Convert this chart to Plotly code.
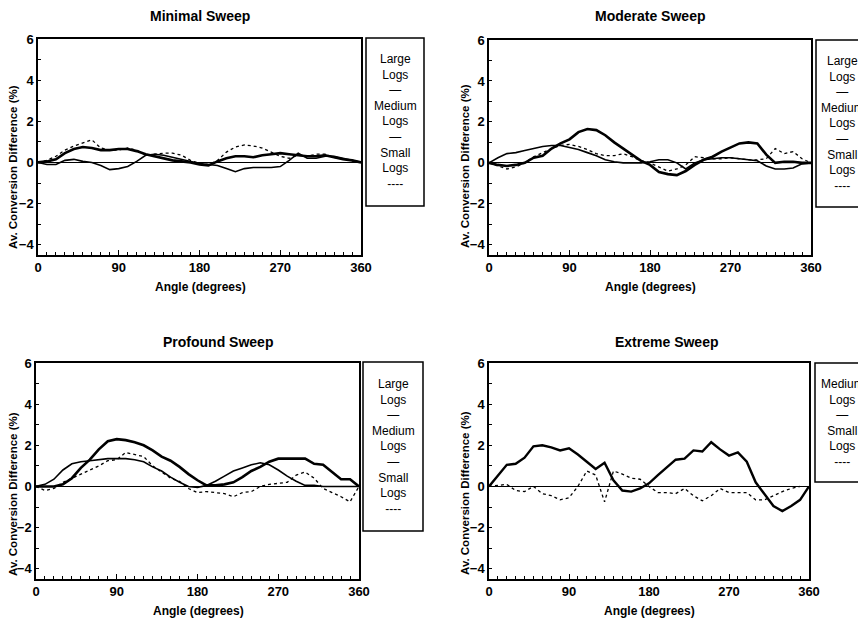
import plotly.graph_objects as go

# ---------------- data ----------------
ANGLES = [0, 10, 20, 30, 40, 50, 60, 70, 80, 90, 100, 110, 120, 130, 140, 150, 160, 170, 180,
          190, 200, 210, 220, 230, 240, 250, 260, 270, 280, 290, 300, 310, 320, 330, 340, 350, 360]

MIN_LARGE = [0, 0.05, 0.15, 0.45, 0.65, 0.75, 0.7, 0.6, 0.6, 0.65, 0.65, 0.55, 0.4, 0.3, 0.2, 0.1, 0.05, 0, -0.1,
             -0.15, 0.05, 0.2, 0.3, 0.3, 0.25, 0.35, 0.4, 0.45, 0.4, 0.35, 0.3, 0.3, 0.35, 0.25, 0.15, 0.1, 0]
MIN_MEDIUM = [0, -0.1, -0.1, 0.1, 0.15, 0.05, 0, -0.15, -0.35, -0.3, -0.2, 0.05, 0.35, 0.4, 0.35, 0.25, 0.15, 0.05, -0.05,
              -0.1, -0.15, -0.3, -0.45, -0.3, -0.25, -0.25, -0.25, -0.2, 0.1, 0.45, 0.2, 0.2, 0.3, 0.3, 0.2, 0.1, 0]
MIN_SMALL = [0, 0.1, 0.3, 0.6, 0.8, 0.95, 1.1, 0.7, 0.6, 0.6, 0.7, 0.6, 0.35, 0.4, 0.45, 0.45, 0.35, 0.1, -0.05,
             -0.1, 0.1, 0.5, 0.75, 0.85, 0.8, 0.7, 0.5, 0.3, 0.2, 0.35, 0.3, 0.4, 0.4, 0.25, 0.15, 0.1, 0]

MOD_LARGE = [0, -0.1, -0.15, -0.1, 0, 0.25, 0.35, 0.7, 0.95, 1.15, 1.5, 1.65, 1.6, 1.35, 1.0, 0.7, 0.4, 0.1, -0.1,
             -0.45, -0.55, -0.6, -0.4, -0.1, 0.15, 0.3, 0.55, 0.75, 0.95, 1.0, 0.95, 0.4, 0, 0.05, 0.05, 0, 0]
MOD_MEDIUM = [0, 0.25, 0.45, 0.5, 0.6, 0.7, 0.8, 0.85, 0.85, 0.75, 0.65, 0.5, 0.35, 0.15, 0.05, 0, 0, 0, 0.05,
              0.15, 0.15, 0.0, -0.3, 0, 0.15, 0.2, 0.25, 0.25, 0.2, 0.15, 0.1, -0.15, -0.3, -0.3, -0.25, -0.05, 0]
MOD_SMALL = [0, -0.15, -0.3, -0.2, 0, 0.3, 0.5, 0.7, 0.85, 0.9, 0.8, 0.65, 0.45, 0.35, 0.35, 0.45, 0.3, 0.1, 0,
             -0.2, -0.4, -0.3, -0.1, 0.3, 0.25, 0.2, 0.2, 0.25, 0.2, 0.15, 0.15, 0.2, 0.7, 0.45, 0.55, 0.2, 0]

PRO_LARGE = [0, 0, 0, 0.1, 0.4, 0.9, 1.3, 1.8, 2.2, 2.3, 2.25, 2.15, 2.0, 1.75, 1.45, 1.25, 0.95, 0.6, 0.3,
             0.05, 0.05, 0.1, 0.2, 0.45, 0.75, 0.95, 1.2, 1.35, 1.35, 1.35, 1.35, 1.1, 1.05, 0.7, 0.35, 0.35, 0]
PRO_MEDIUM = [0, 0.1, 0.35, 0.8, 1.1, 1.2, 1.25, 1.3, 1.35, 1.35, 1.35, 1.3, 1.2, 0.95, 0.75, 0.45, 0.2, 0.0, -0.05,
              0.05, 0.25, 0.5, 0.75, 0.9, 1.05, 1.15, 1.05, 0.8, 0.5, 0.25, 0.05, 0.05, 0, 0, 0, 0, 0]
PRO_SMALL = [0, -0.2, -0.1, 0.2, 0.4, 0.6, 0.8, 1.0, 1.25, 1.3, 1.65, 1.55, 1.45, 1.0, 0.7, 0.4, 0.25, -0.1, -0.3,
             -0.25, -0.3, -0.35, -0.5, -0.3, -0.25, 0.0, 0.1, 0.15, 0.2, 0.55, 0.7, 0.4, -0.1, -0.3, -0.5, -0.75, 0]

EXT_MEDIUM = [0, 0.5, 1.05, 1.1, 1.4, 1.95, 2.0, 1.9, 1.75, 1.85, 1.55, 1.2, 0.85, 1.15, 0.3, -0.2, -0.25, -0.1, 0.15,
              0.55, 0.95, 1.3, 1.35, 1.75, 1.7, 2.15, 1.8, 1.5, 1.65, 1.2, 0.2, -0.35, -0.95, -1.2, -0.95, -0.65, 0]
EXT_SMALL = [0, 0.05, 0.1, -0.2, -0.25, 0, -0.35, -0.45, -0.65, -0.55, 0, 0.75, 0.55, -0.75, 0.75, 0.6, 0.4, 0.35, 0,
             -0.3, -0.3, -0.35, -0.1, -0.45, -0.7, -0.45, -0.1, -0.3, -0.3, -0.3, -0.65, -0.65, -0.45, -0.25, -0.1, 0.0, None]

X_TICKS = [0, 90, 180, 270, 360]
Y_TICKS = [-4, -2, 0, 2, 4, 6]
TITLES = ["Minimal Sweep", "Moderate Sweep", "Profound Sweep", "Extreme Sweep"]
LEGEND3 = "Large<br>Logs<br>—<br>Medium<br>Logs<br>—<br>Small<br>Logs<br>----"
LEGEND2 = "Medium<br>Logs<br>—<br>Small<br>Logs<br>----"
X_TITLE = "Angle (degrees)"
Y_TITLE = "Av. Conversion Difference (%)"

# ---------------- layout helpers ----------------
# The page body has an 8px margin, so the figure is drawn 8px in from the window corner.
PAGE_W, PAGE_H = 866, 622
OFF = 8
W, H = PAGE_W - OFF, PAGE_H - OFF
FONT = "Liberation Sans, Arial, sans-serif"


def fx(p):
    return (p - OFF) / W


def fy(p):
    return 1 - (p - OFF) / H


STYLE = {
    "large": dict(color="black", width=2.6, dash="solid"),
    "medium": dict(color="black", width=1.6, dash="solid"),
    "medium_thick": dict(color="black", width=2.4, dash="solid"),
    "small": dict(color="black", width=1.3, dash="dot"),
}

# positions below are window pixels measured on the reference
panels = [
    dict(box=(38, 361, 39, 255), title=(200, 16), xt=(200, 287), yt=(13, 167),
         series=[(MIN_LARGE, "large"), (MIN_MEDIUM, "medium"), (MIN_SMALL, "small")],
         legend=(366, 424, 38, 206, LEGEND3), ltx=395),
    dict(box=(489, 811, 40, 255), title=(650, 16), xt=(650, 287), yt=(465, 166),
         series=[(MOD_LARGE, "large"), (MOD_MEDIUM, "medium"), (MOD_SMALL, "small")],
         legend=(816, 874, 40, 207, LEGEND3), ltx=842),
    dict(box=(36, 359, 363, 579), title=(218, 342), xt=(198, 611), yt=(13, 494),
         series=[(PRO_LARGE, "large"), (PRO_MEDIUM, "medium"), (PRO_SMALL, "small")],
         legend=(363, 423, 362, 531, LEGEND3), ltx=393),
    dict(box=(489, 809, 363, 579), title=(667, 342), xt=(649, 611), yt=(465, 493),
         series=[(EXT_MEDIUM, "medium_thick"), (EXT_SMALL, "small")],
         legend=(815, 873, 363, 482, LEGEND2), ltx=842),
]

fig = go.Figure()
annotations = []
shapes = []
layout_axes = {}
TICKFONT = dict(family=FONT, size=13, color="black", weight="bold")

for i, p in enumerate(panels):
    n = "" if i == 0 else str(i + 1)
    x0, x1, y0, y1 = p["box"]
    for vals, kind in p["series"]:
        fig.add_trace(go.Scatter(x=ANGLES, y=vals, mode="lines", line=STYLE[kind],
                                 xaxis="x" + n, yaxis="y" + n, showlegend=False,
                                 connectgaps=False))
    layout_axes["xaxis" + n] = dict(
        domain=[fx(x0), fx(x1)], anchor="y" + n, range=[0, 360],
        tickvals=X_TICKS, ticks="inside", ticklen=5, tickwidth=1, tickcolor="black",
        minor=dict(dtick=10, ticks="inside", ticklen=3, tickcolor="black", tickwidth=1),
        showgrid=False, zeroline=False, showline=True, linecolor="black", linewidth=1.5,
        mirror=True, tickfont=TICKFONT,
        automargin=False, fixedrange=True,
    )
    layout_axes["yaxis" + n] = dict(
        domain=[fy(y1), fy(y0)], anchor="x" + n, range=[-4.5, 6],
        tickvals=Y_TICKS, ticks="inside", ticklen=3, tickwidth=1, tickcolor="black",
        minor=dict(dtick=1, ticks="inside", ticklen=3, tickcolor="black", tickwidth=1),
        showgrid=False, zeroline=True, zerolinecolor="black", zerolinewidth=1.2,
        showline=True, linecolor="black", linewidth=1.5, mirror=True,
        tickfont=TICKFONT,
        automargin=False, fixedrange=True,
    )
    tx, ty = p["title"]
    annotations.append(dict(text="<b>" + TITLES[i] + "</b>", x=fx(tx), y=fy(ty), xref="paper", yref="paper",
                            xanchor="center", yanchor="middle", showarrow=False,
                            font=dict(family=FONT, size=14, color="black")))
    ax, ay = p["xt"]
    annotations.append(dict(text="<b>" + X_TITLE + "</b>", x=fx(ax), y=fy(ay), xref="paper", yref="paper",
                            xanchor="center", yanchor="middle", showarrow=False,
                            font=dict(family=FONT, size=12, color="black")))
    bx, by = p["yt"]
    annotations.append(dict(text="<b>" + Y_TITLE + "</b>", x=fx(bx), y=fy(by), xref="paper", yref="paper",
                            xanchor="center", yanchor="middle", showarrow=False, textangle=-90,
                            font=dict(family=FONT, size=11.5, color="black")))
    lx0, lx1, ly0, ly1, ltext = p["legend"]
    shapes.append(dict(type="rect", xref="paper", yref="paper", x0=fx(lx0), x1=fx(lx1),
                       y0=fy(ly1), y1=fy(ly0), line=dict(color="black", width=1.5)))
    annotations.append(dict(text=ltext, x=fx(p["ltx"]), y=fy((ly0 + ly1) / 2),
                            xref="paper", yref="paper", xanchor="center", yanchor="middle",
                            showarrow=False, align="center",
                            font=dict(family=FONT, size=12, color="black")))

fig.update_layout(
    width=W, height=H, margin=dict(l=0, r=0, t=0, b=0),
    paper_bgcolor="white", plot_bgcolor="white",
    annotations=annotations, shapes=shapes, showlegend=False,
    **layout_axes,
)

fig.write_html("out.html")
